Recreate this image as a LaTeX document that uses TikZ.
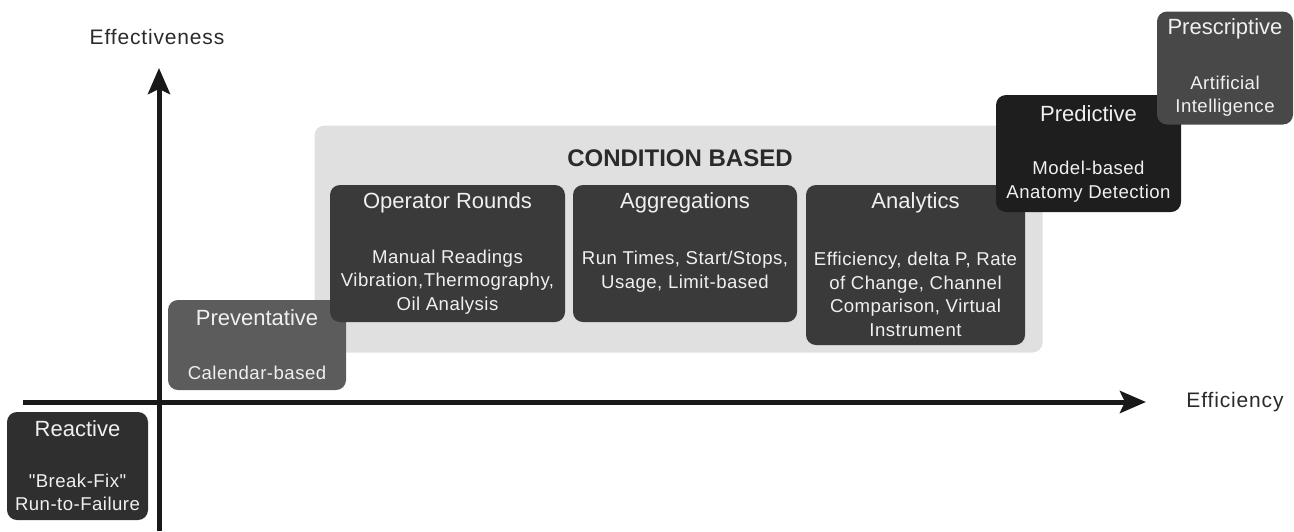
\documentclass[tikz,border=0pt]{standalone}
\usepackage{fontspec}
\setmainfont{Liberation Sans}
\newfontfamily\bodyfont[LetterSpace=2.5]{Liberation Sans}
\newfontfamily\axfont[LetterSpace=4]{Liberation Sans}
\usetikzlibrary{arrows.meta}
\definecolor{bgcond}{HTML}{E0E0E0}
\definecolor{cdark}{HTML}{3A3A3A}
\definecolor{creact}{HTML}{2F2F2F}
\definecolor{cprev}{HTML}{5C5C5C}
\definecolor{cpred}{HTML}{1E1E1E}
\definecolor{cpres}{HTML}{484848}
\definecolor{ctext}{HTML}{F0F0F0}
\definecolor{clabel}{HTML}{2A2A2A}
\tikzset{
  box/.style={rounded corners=10pt, inner sep=0pt},
  ttl/.style={text=ctext, font=\fontsize{22}{24}\selectfont, inner sep=0pt, anchor=center},
  bdy/.style={text=ctext, font=\bodyfont\fontsize{18.6}{23.5}\selectfont, align=center, inner sep=0pt, anchor=center},
  axis/.style={line width=5pt, draw=black!90, -{Stealth[length=26pt,width=22pt,inset=5pt]}},
  axlbl/.style={text=clabel, font=\axfont\fontsize{21}{24}\selectfont, inner sep=0pt}
}
\begin{document}
\begin{tikzpicture}[x=1pt,y=-1pt]
\useasboundingbox (0,0) rectangle (1294,531);
% condition based background
\node[box, fill=bgcond, minimum width=728pt, minimum height=227pt] (cond) at (678.5,239) {};
\node[text=clabel, font=\bfseries\fontsize{24}{26}\selectfont, inner sep=0pt] (condlbl) at (680,158) {CONDITION BASED};
% axes
\coordinate (ybot) at (159,531);
\coordinate (ytop) at (159,68);
\coordinate (xleft) at (23,402);
\coordinate (xright) at (1146,402);
\draw[axis] (ybot) -- (ytop);
\draw[axis] (xleft) -- (xright);
\node[axlbl] (effect) at (157,37) {Effectiveness};
\node[axlbl] (effic) at (1235,402) {Efficiency};
% Reactive
\node[box, fill=creact, minimum width=141pt, minimum height=108pt] (react) at (77.5,466) {};
\node[ttl] (reactT) at (77.5,429) {Reactive};
\node[bdy] (reactB) at (77.5,492.5) {\symbol{34}Break-Fix\symbol{34}\\Run-to-Failure};
% Preventative
\node[box, fill=cprev, minimum width=178pt, minimum height=90pt] (prev) at (257,345) {};
\node[ttl] (prevT) at (257,318) {Preventative};
\node[bdy] (prevB) at (257,373) {Calendar-based};
% Operator Rounds
\node[box, fill=cdark, minimum width=235pt, minimum height=137pt] (oper) at (447.5,253.5) {};
\node[ttl] (operT) at (447.5,203) {Operator Rounds};
\node[bdy] (operB) at (447.5,282) {Manual Readings\\Vibration,Thermography,\\Oil Analysis};
% Aggregations
\node[box, fill=cdark, minimum width=224pt, minimum height=137pt] (aggr) at (685,253.5) {};
\node[ttl] (aggrT) at (685,203) {Aggregations};
\node[bdy] (aggrB) at (685,271.5) {Run Times, Start/Stops,\\Usage, Limit-based};
% Analytics
\node[box, fill=cdark, minimum width=219pt, minimum height=160pt] (anal) at (915.5,265) {};
\node[ttl] (analT) at (915.5,203) {Analytics};
\node[bdy] (analB) at (915.5,294.5) {Efficiency, delta P, Rate\\of Change, Channel\\Comparison, Virtual\\Instrument};
% Predictive
\node[box, fill=cpred, minimum width=185pt, minimum height=117pt] (pred) at (1088.5,153.5) {};
\node[ttl] (predT) at (1088.5,114) {Predictive};
\node[bdy] (predB) at (1088.5,181.5) {Model-based\\Anatomy Detection};
% Prescriptive
\node[box, fill=cpres, minimum width=136pt, minimum height=113pt] (pres) at (1225,68) {};
\node[ttl] (presT) at (1225,29) {Prescriptive};
\node[bdy] (presB) at (1225,96) {Artificial\\Intelligence};
\end{tikzpicture}
\end{document}
